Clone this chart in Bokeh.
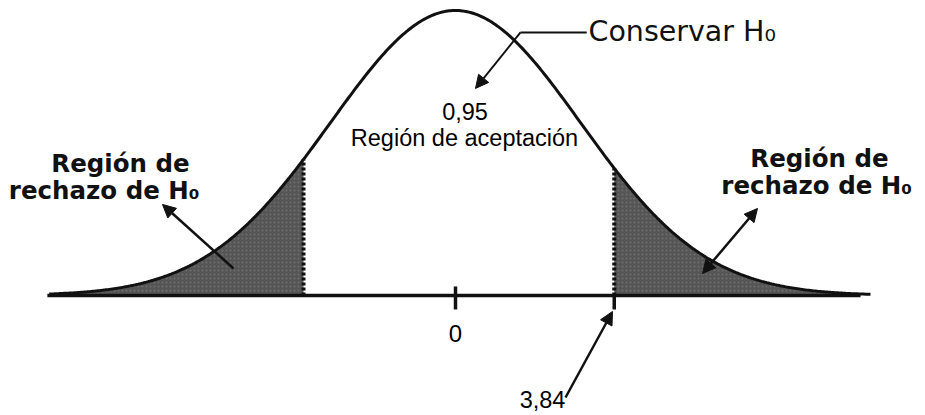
import numpy as np
from bokeh.plotting import figure
from bokeh.models import Range1d, Arrow, NormalHead, Label
from bokeh.embed import file_html
from bokeh.resources import INLINE

# ---------------- data ----------------
mean = 0.0
sd = 1.0
curve_from = -3.25
curve_to = 3.32
crit_left = -1.216
crit_right = 1.27
shade_right_end = 3.10
tick_positions = [0.0, 1.27]
tick_labels = ["0", "3,84"]
acceptance_prob = "0,95"
acceptance_text = "Región de aceptación"
reject_line1 = "Región de"
reject_line2 = "rechazo de  H₀"
keep_text = "Conservar  H₀"


def pdf(z):
    return np.exp(-0.5 * ((z - mean) / sd) ** 2) / (sd * np.sqrt(2 * np.pi))


xs = np.linspace(curve_from, curve_to, 500)
ys = pdf(xs)

xl = np.linspace(curve_from, crit_left, 200)
xr = np.linspace(crit_right, shade_right_end, 200)

# ---------------- figure ----------------
p = figure(width=925, height=415, output_backend="svg", toolbar_location=None,
           x_range=Range1d(-3.64, 3.76), y_range=Range1d(-0.168, 0.4129),
           min_border=0)
p.axis.visible = False
p.grid.visible = False
p.outline_line_color = None
p.background_fill_color = "white"

shade = dict(fill_color="#555555", hatch_pattern="dot", hatch_color="#777777",
             hatch_scale=4, hatch_weight=1, hatch_alpha=0.7)
p.varea(x=xl, y1=0, y2=pdf(xl), **shade)
p.varea(x=xr, y1=0, y2=pdf(xr), **shade)

# critical dotted lines
p.segment(x0=[crit_left, crit_right], y0=[0, 0],
          x1=[crit_left, crit_right], y1=[pdf(crit_left), pdf(crit_right)],
          line_color="#111111", line_width=4, line_dash="3 2")

# curve
p.line(xs, ys, line_color="#111111", line_width=3)

# base line
p.segment(x0=[curve_from - 0.015], y0=[0], x1=[3.24], y1=[0],
          line_color="#111111", line_width=3.5)

# ticks
p.segment(x0=tick_positions, y0=[0.0126, 0.0], x1=tick_positions,
          y1=[-0.0196, -0.0196], line_color="#111111", line_width=3.5)

arial = "Liberation Sans"
gothic = "DejaVu Sans"

# tick labels
p.add_layout(Label(x=tick_positions[0], y=-0.0532, text=tick_labels[0],
                   text_align="center", text_baseline="alphabetic",
                   text_font=arial, text_font_size="24px", text_color="black"))
p.add_layout(Label(x=0.696, y=-0.1456, text=tick_labels[1],
                   text_align="center", text_baseline="alphabetic",
                   text_font=arial, text_font_size="23.5px", text_color="black"))

# central labels
p.add_layout(Label(x=0.076, y=0.2576, text=acceptance_prob, text_align="center",
                   text_baseline="alphabetic", text_font=arial,
                   text_font_size="23.5px", text_color="black"))
p.add_layout(Label(x=0.072, y=0.2198, text=acceptance_text, text_align="center",
                   text_baseline="alphabetic", text_font=arial,
                   text_font_size="23.5px", text_color="black"))

# Conservar H0
p.add_layout(Label(x=1.064, y=0.3696, text=keep_text, text_align="left",
                   text_baseline="alphabetic", text_font=gothic,
                   text_font_size="28.5px", text_color="#111111"))
p.line([0.52, 1.05], [0.3682, 0.3682], line_color="#111111", line_width=2)

# rejection labels
for (cx, by, t) in [(-2.68, 0.1848, reject_line1), (-2.776, 0.147, reject_line2),
                    (2.912, 0.1918, reject_line1), (2.924, 0.154, reject_line2)]:
    p.add_layout(Label(x=cx, y=by, text=t, text_align="center",
                       text_baseline="alphabetic", text_font=gothic,
                       text_font_style="bold", text_font_size="24.5px",
                       text_color="#111111"))


def head():
    return NormalHead(size=13, fill_color="#111111", line_color="#111111")


p.add_layout(Arrow(end=head(), x_start=0.52, y_start=0.3682, x_end=0.16, y_end=0.2898,
                   line_width=2, line_color="#111111"))
p.add_layout(Arrow(end=head(), x_start=-1.776, y_start=0.0378, x_end=-2.344, y_end=0.1274,
                   line_width=2.5, line_color="#111111"))
p.add_layout(Arrow(start=head(), end=head(), x_start=1.976, y_start=0.0308,
                   x_end=2.416, y_end=0.1218, line_width=2.5, line_color="#111111"))
p.add_layout(Arrow(end=head(), x_start=0.88, y_start=-0.1428, x_end=1.256, y_end=-0.0224,
                   line_width=2.5, line_color="#111111"))

open("out.html", "w").write(file_html(p, INLINE))
